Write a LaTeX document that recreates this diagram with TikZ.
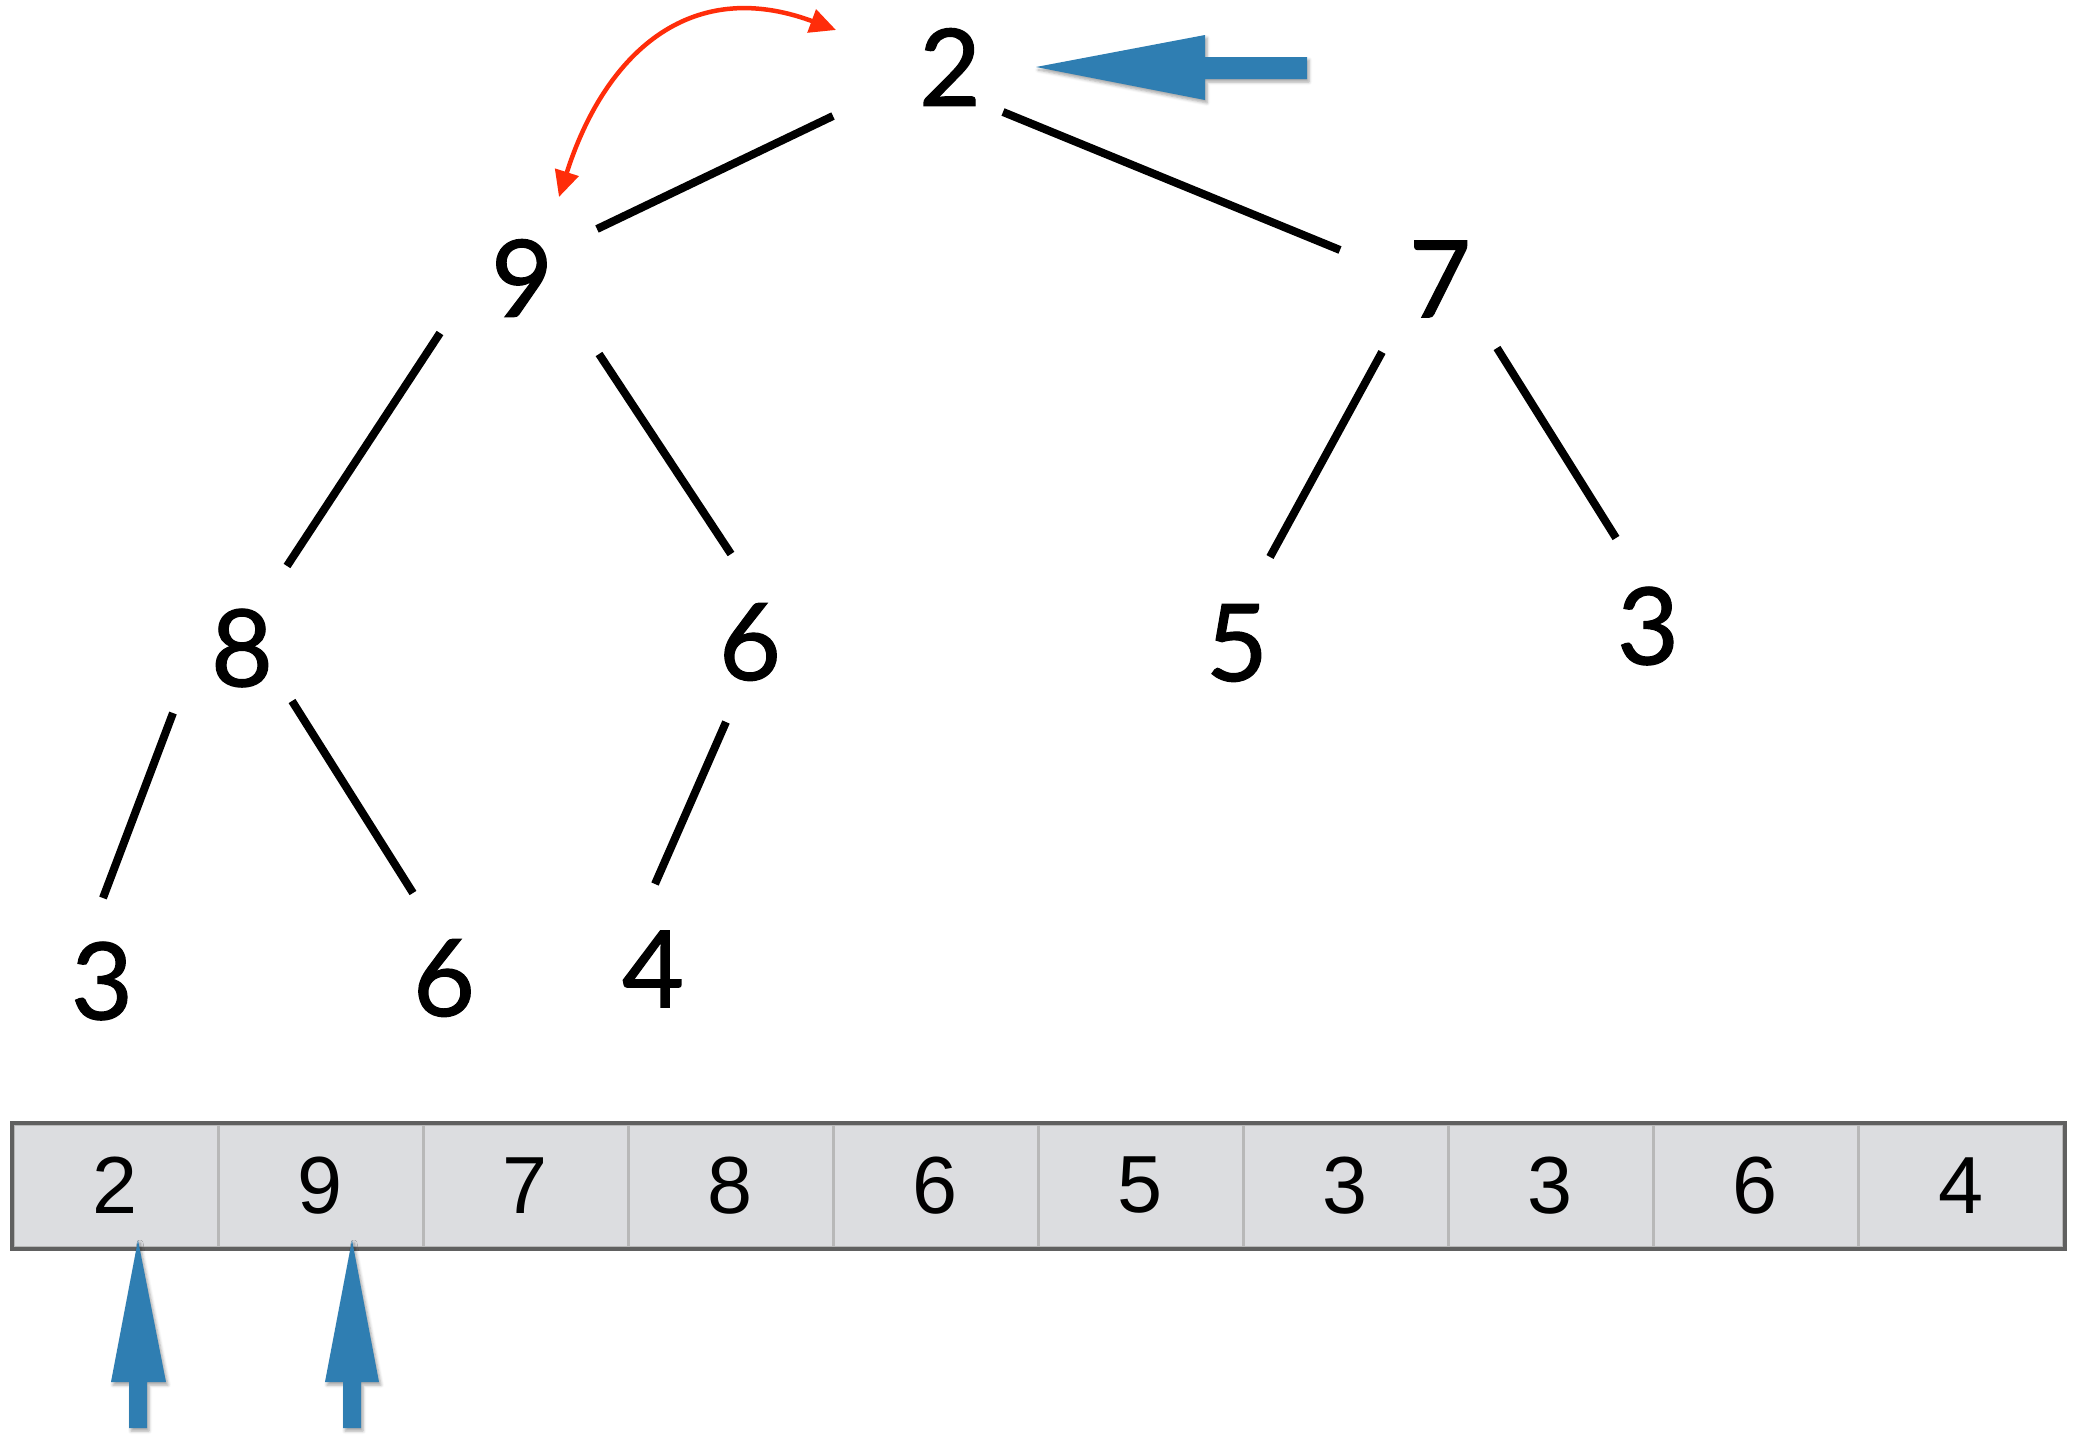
\documentclass[tikz,border=0pt]{standalone}
\usepackage{fontspec}
\usetikzlibrary{calc,arrows.meta,shadows.blur}
\newfontfamily\treefont{Lato}[FakeBold=1.1]
\newfontfamily\arrfont{Liberation Sans}
\definecolor{ptrblue}{HTML}{2F7EB2}
\definecolor{swapred}{HTML}{FF2D0A}
\definecolor{cellfill}{HTML}{DCDDE0}
\definecolor{cellline}{HTML}{B8B8B8}
\definecolor{outerline}{HTML}{606060}
\begin{document}
\begin{tikzpicture}[x=1pt,y=-1pt,
  tnode/.style={font=\treefont\fontsize{107}{110}\selectfont, inner sep=0pt},
  edge/.style={line width=8pt, line cap=butt, black},
  cell/.style={rectangle, minimum width=205pt, minimum height=123pt, inner sep=0pt,
     fill=cellfill, draw=cellline, line width=3pt,
     font=\arrfont\fontsize{81}{84}\selectfont},
  ptr/.style={fill=ptrblue, blur shadow={shadow xshift=2pt, shadow yshift=-3pt, shadow blur radius=3pt, shadow opacity=35}},
  swap/.style={draw=swapred, line width=4.5pt, {Triangle[length=26pt,width=24pt]}-{Triangle[length=26pt,width=24pt]}}
]
\useasboundingbox (0,0) rectangle (2074,1435);

% tree nodes
\node[tnode] (n2)  at (950,67)  {2};
\node[tnode] (n9)  at (522,278) {9};
\node[tnode] (n7)  at (1440,279) {7};
\node[tnode] (n8)  at (242,648) {8};
\node[tnode] (n6)  at (750,642) {6};
\node[tnode] (n5)  at (1237,643) {5};
\node[tnode] (n3)  at (1648,626) {3};
\node[tnode] (n3b) at (102,981) {3};
\node[tnode] (n6b) at (444,978) {6};
\node[tnode] (n4)  at (653,969) {4};

% edges
\draw[edge] ($(n2)+(-117,49)$) -- ($(n9)+(75,-49)$);
\draw[edge] ($(n2)+(53,45)$) -- ($(n7)+(-100,-29)$);
\draw[edge] ($(n9)+(-82,55)$) -- ($(n8)+(45,-82)$);
\draw[edge] ($(n9)+(77,76)$) -- ($(n6)+(-19,-88)$);
\draw[edge] ($(n7)+(-58,73)$) -- ($(n5)+(33,-86)$);
\draw[edge] ($(n7)+(57,69)$) -- ($(n3)+(-32,-88)$);
\draw[edge] ($(n8)+(-69,65)$) -- ($(n3b)+(1,-83)$);
\draw[edge] ($(n8)+(50,53)$) -- ($(n6b)+(-31,-85)$);
\draw[edge] ($(n6)+(-24,80)$) -- ($(n4)+(2,-85)$);

% swap arrow
\draw[swap] ($(n9)+(37,-81)$) .. controls ($(n9)+(82,-222)$) and ($(n2)+(-262,-92)$) .. ($(n2)+(-114,-37)$);

% array
\foreach \v [count=\i] in {2,9,7,8,6,5,3,3,6,4} {
  \node[cell] (c\i) at ({13+205*(\i-0.5)},1185.5) {\raisebox{-3pt}{\v}};
}
\draw[outerline, line width=4pt] (c1.north west) rectangle (c10.south east);

% pointer arrows
\coordinate (ptop) at (1036,67);
\fill[ptr] (ptop) -- (1205,35) -- (1205,57) -- (1307,57) -- (1307,79) -- (1205,79) -- (1205,100) -- cycle;
\coordinate (pa) at (138,1240);
\fill[ptr] (pa) -- (166,1382) -- (147,1382) -- (147,1428) -- (129,1428) -- (129,1382) -- (111,1382) -- cycle;
\coordinate (pb) at (352,1240);
\fill[ptr] (pb) -- (379,1382) -- (361,1382) -- (361,1428) -- (343,1428) -- (343,1382) -- (325,1382) -- cycle;
\end{tikzpicture}
\end{document}
